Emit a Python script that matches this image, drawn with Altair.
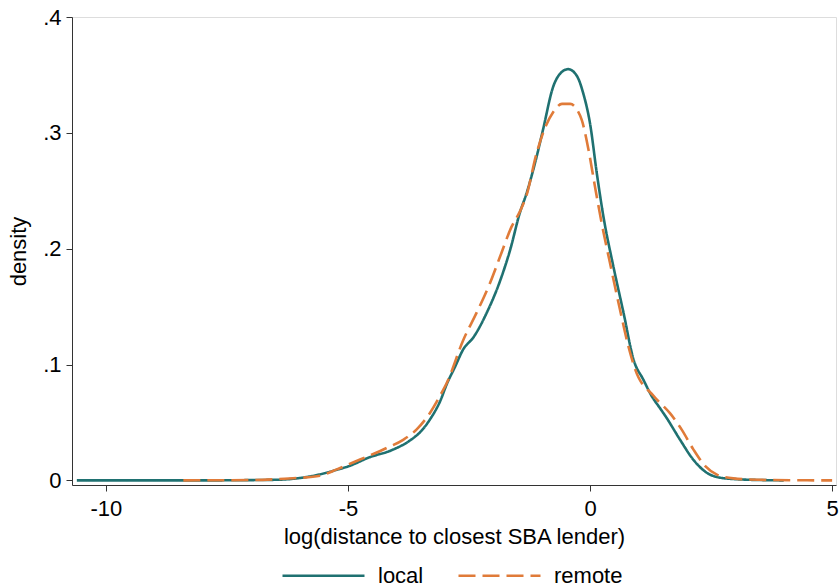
import altair as alt
import pandas as pd

local_x = [-10.6, -8.0, -6.5, -6.0, -5.6, -5.2, -5.0, -4.55, -4.1, -3.7, -3.5, -3.3, -3.1,
           -2.95, -2.8, -2.62, -2.4, -2.13, -1.86, -1.65, -1.45, -1.31, -1.1, -0.97, -0.76,
           -0.62, -0.45, -0.27, -0.14, 0.0, 0.14, 0.275, 0.48, 0.69, 0.9, 1.1, 1.27, 1.45,
           1.58, 1.86, 2.13, 2.41, 2.69, 3.03, 3.5, 4.0]
local_y = [0.0, 0.0, 0.0005, 0.002, 0.005, 0.0095, 0.012, 0.020, 0.026, 0.035, 0.042, 0.053,
           0.068, 0.084, 0.097, 0.113, 0.124, 0.145, 0.172, 0.199, 0.231, 0.248, 0.280,
           0.303, 0.340, 0.351, 0.355, 0.349, 0.334, 0.308, 0.265, 0.228, 0.185, 0.145,
           0.104, 0.087, 0.073, 0.062, 0.054, 0.035, 0.018, 0.0066, 0.0023, 0.001, 0.0003, 0.0]

remote_x = [-8.4, -7.0, -6.5, -6.06, -5.58, -5.23, -4.75, -4.2, -3.86, -3.58, -3.31, -3.1,
            -2.96, -2.62, -2.34, -2.07, -1.86, -1.62, -1.45, -1.32, -1.1, -0.97, -0.76,
            -0.58, -0.41, -0.27, -0.17, -0.03, 0.10, 0.24, 0.41, 0.62, 0.79, 0.93, 1.31,
            1.65, 1.89, 2.13, 2.38, 2.62, 2.96, 3.5, 4.2, 5.0]
remote_y = [0.0, 0.0003, 0.001, 0.002, 0.004, 0.0095, 0.018, 0.028, 0.035, 0.044, 0.058,
            0.073, 0.084, 0.121, 0.145, 0.170, 0.193, 0.219, 0.232, 0.245, 0.283, 0.300,
            0.318, 0.325, 0.325, 0.320, 0.311, 0.285, 0.254, 0.222, 0.188, 0.147, 0.116,
            0.096, 0.073, 0.058, 0.044, 0.027, 0.0123, 0.005, 0.0017, 0.0005, 0.0001, 0.0]

series_names = ["local", "remote"]
series_colors = ["#1f7171", "#e07b39"]
x_ticks = [-10, -5, 0, 5]
y_ticks = [0, 0.1, 0.2, 0.3, 0.4]

rows = []
for i, (x, y) in enumerate(zip(local_x, local_y)):
    rows.append({"x": x, "y": y, "group": "local", "order": i})
for i, (x, y) in enumerate(zip(remote_x, remote_y)):
    rows.append({"x": x, "y": y, "group": "remote", "order": i})
df = pd.DataFrame(rows)

font = "Liberation Sans"
fs = 22

chart = alt.Chart(df).mark_line(strokeWidth=2.6, interpolate="monotone").encode(
    x=alt.X("x:Q",
            scale=alt.Scale(domain=[-10.7, 5.08], nice=False, zero=False),
            axis=alt.Axis(values=x_ticks, title="log(distance to closest SBA lender)",
                          labelExpr="datum.value < 0 ? '-' + abs(datum.value) : '' + datum.value",
                          grid=False, tickSize=6, labelPadding=7, titlePadding=7,
                          labelFontSize=fs, titleFontSize=fs, titleFontWeight="normal",
                          labelFont=font, titleFont=font, labelColor="black", titleColor="black",
                          domainColor="#333333", tickColor="#333333", labelFlush=False)),
    y=alt.Y("y:Q",
            scale=alt.Scale(domain=[-0.004, 0.4], nice=False, zero=False),
            axis=alt.Axis(values=y_ticks, title="density",
                          labelExpr="datum.value == 0 ? '0' : substring(format(datum.value, '.1f'), 1)",
                          grid=False, tickSize=6, labelPadding=5, titlePadding=12,
                          labelFontSize=fs, titleFontSize=fs, titleFontWeight="normal",
                          labelFont=font, titleFont=font, labelColor="black", titleColor="black",
                          domainColor="#333333", tickColor="#333333", labelFlush=False)),
    color=alt.Color("group:N",
                    scale=alt.Scale(domain=series_names, range=series_colors),
                    legend=alt.Legend(title=None, orient="none", direction="horizontal",
                                      legendX=209, legendY=516,
                                      symbolType="stroke", symbolSize=6724,
                                      symbolStrokeWidth=2.6, labelFontSize=fs, labelFont=font,
                                      labelColor="black", labelOffset=12, columnPadding=29)),
    strokeDash=alt.StrokeDash("group:N",
                              scale=alt.Scale(domain=series_names, range=[[1, 0], [17, 7]]),
                              legend=None),
    order="order:Q",
).properties(
    width=764, height=468,
    autosize=alt.AutoSizeParams(type="none"),
    padding={"left": 72, "top": 17, "right": 3, "bottom": 103},
).configure_view(stroke=None).configure(background="white")

chart.save("out.html", embed_options={"renderer": "svg", "actions": False})
